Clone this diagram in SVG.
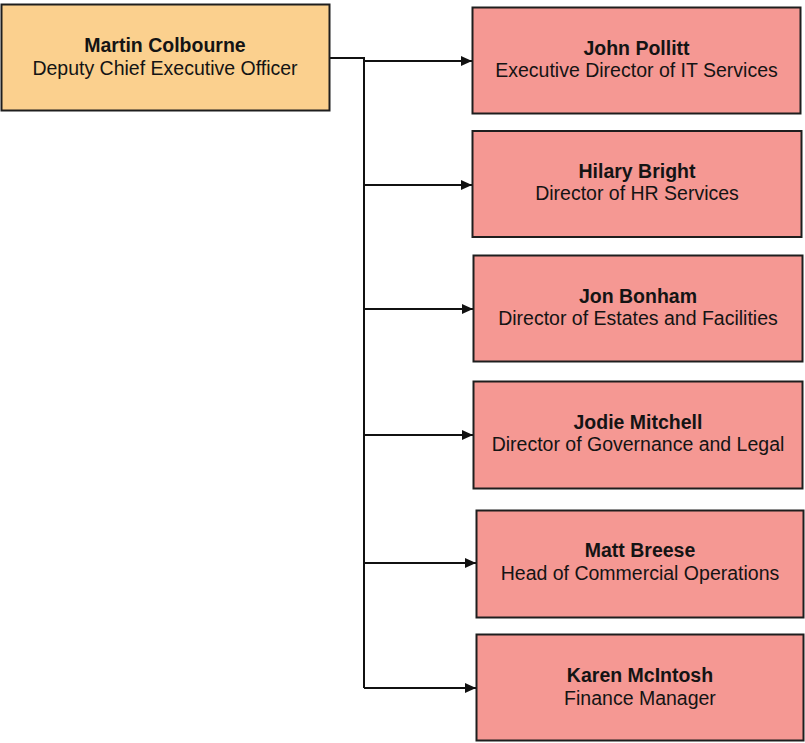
<svg xmlns="http://www.w3.org/2000/svg" width="805" height="743" viewBox="0 0 805 743">
<style>
.box{stroke:#1e1e1e;stroke-width:2}
.root{fill:#FBD08E}
.child{fill:#F59893}
text{font-family:"Liberation Sans",Arial,sans-serif;font-size:19.5px;fill:#141414;text-anchor:middle}
.n{font-weight:bold}
.c{fill:none;stroke:#111;stroke-width:2}
</style>
<defs>
<marker id="ah" markerWidth="12" markerHeight="12" refX="11" refY="6" orient="auto" markerUnits="userSpaceOnUse">
<path d="M0,1 L11,6 L0,11 Z" fill="#111"/>
</marker>
</defs>
<g id="connectors">
<path class="c" d="M330,58 H364 V688"/>
<path class="c" d="M364,61 H472" marker-end="url(#ah)"/>
<path class="c" d="M364,185 H472" marker-end="url(#ah)"/>
<path class="c" d="M364,309 H473" marker-end="url(#ah)"/>
<path class="c" d="M364,435 H473" marker-end="url(#ah)"/>
<path class="c" d="M364,563 H476" marker-end="url(#ah)"/>
<path class="c" d="M364,688 H476" marker-end="url(#ah)"/>
</g>
<g id="martin">
<rect class="box root" x="1.5" y="4.5" width="328" height="106"/>
<text class="n" x="165" y="52">Martin Colbourne</text>
<text x="165" y="75">Deputy Chief Executive Officer</text>
</g>
<g id="john">
<rect class="box child" x="472.5" y="7.5" width="328" height="106"/>
<text class="n" x="636.5" y="55">John Pollitt</text>
<text x="636.5" y="77">Executive Director of IT Services</text>
</g>
<g id="hilary">
<rect class="box child" x="472.5" y="131" width="329" height="106"/>
<text class="n" x="637" y="178">Hilary Bright</text>
<text x="637" y="200">Director of HR Services</text>
</g>
<g id="jon">
<rect class="box child" x="473.5" y="255.5" width="329" height="106"/>
<text class="n" x="638" y="302.5">Jon Bonham</text>
<text x="638" y="325">Director of Estates and Facilities</text>
</g>
<g id="jodie">
<rect class="box child" x="473.5" y="381.5" width="329" height="107"/>
<text class="n" x="638" y="429">Jodie Mitchell</text>
<text x="638" y="451">Director of Governance and Legal</text>
</g>
<g id="matt">
<rect class="box child" x="476.5" y="510.5" width="327" height="107"/>
<text class="n" x="640" y="557">Matt Breese</text>
<text x="640" y="580">Head of Commercial Operations</text>
</g>
<g id="karen">
<rect class="box child" x="476.5" y="634.5" width="327" height="106"/>
<text class="n" x="640" y="682">Karen McIntosh</text>
<text x="640" y="705">Finance Manager</text>
</g>
</svg>
